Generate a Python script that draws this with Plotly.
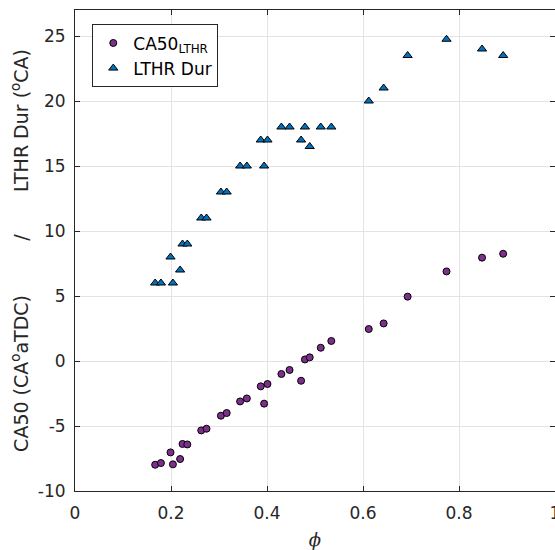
import plotly.graph_objects as go

# Equivalence ratio for each operating point
phi = [0.167, 0.179, 0.199, 0.204, 0.219, 0.224, 0.234, 0.263, 0.274, 0.304,
       0.316, 0.344, 0.358, 0.387, 0.394, 0.401, 0.430, 0.447, 0.471, 0.479,
       0.489, 0.512, 0.534, 0.612, 0.643, 0.693, 0.774, 0.848, 0.892]

# CA50 of the LTHR (CA deg aTDC)
ca50_lthr = [-7.98, -7.85, -7.03, -7.95, -7.54, -6.38, -6.42, -5.34, -5.21, -4.21,
             -4.00, -3.11, -2.88, -1.95, -3.28, -1.77, -1.00, -0.69, -1.52, 0.12,
             0.28, 1.02, 1.54, 2.46, 2.89, 4.95, 6.89, 7.95, 8.25]

# LTHR duration (CA deg)
lthr_dur = [6, 6, 8, 6, 7, 9, 9, 11, 11, 13,
            13, 15, 15, 17, 15, 17, 18, 18, 17, 18,
            16.5, 18, 18, 20, 21, 23.5, 24.75, 24, 23.5]

x_ticks = [0, 0.2, 0.4, 0.6, 0.8, 1]
x_tick_labels = ["0", "0.2", "0.4", "0.6", "0.8", "1"]
y_ticks = [-10, -5, 0, 5, 10, 15, 20, 25]
y_tick_labels = ["-10", "-5", "0", "5", "10", "15", "20", "25"]

FONT = "DejaVu Sans, Liberation Sans, Arial, sans-serif"
INK = "#262626"

fig = go.Figure()
fig.add_trace(go.Scatter(
    x=phi, y=ca50_lthr, mode="markers", name="CA50<sub>LTHR</sub>",
    marker=dict(symbol="circle", size=7, color="#7E2F8E",
                line=dict(color="black", width=1)),
))
fig.add_trace(go.Scatter(
    x=phi, y=lthr_dur, mode="markers", name="LTHR Dur",
    marker=dict(symbol="triangle-up", size=8, color="#0072BD",
                line=dict(color="black", width=1)),
))

nb = "\u00a0"
ylabel = ("CA50 (CA<sup>o</sup>aTDC)" + nb * 9 + "/" + nb * 7
          + "LTHR Dur (<sup>o</sup>CA)")

fig.update_layout(
    width=555, height=550,
    margin=dict(l=75, r=0, t=10, b=59, autoexpand=False),
    paper_bgcolor="white", plot_bgcolor="white",
    font=dict(family=FONT, size=17, color=INK),
    showlegend=True,
    legend=dict(x=0.036, y=0.97, xanchor="left", yanchor="top",
                bordercolor=INK, borderwidth=1, bgcolor="white",
                font=dict(size=17, color="black"),
                itemsizing="trace", itemwidth=30, tracegroupgap=0),
    xaxis=dict(range=[0, 1], tickvals=x_ticks, ticktext=x_tick_labels,
               automargin=False,
               showgrid=True, gridcolor="#E3E3E3", gridwidth=1,
               zeroline=False, showline=True, linecolor=INK, linewidth=1,
               mirror="ticks", ticks="inside", ticklen=5, tickcolor=INK,
               tickfont=dict(size=17, color=INK),
               ticklabelstandoff=7, ticklabeloverflow="allow",
               title=dict(text="<i>ϕ</i>", standoff=14,
                          font=dict(family="DejaVu Serif, serif", size=18, color=INK))),
    yaxis=dict(range=[-10, 27], tickvals=y_ticks, ticktext=y_tick_labels,
               automargin=False,
               showgrid=True, gridcolor="#E3E3E3", gridwidth=1,
               zeroline=False, showline=True, linecolor=INK, linewidth=1,
               mirror="ticks", ticks="inside", ticklen=5, tickcolor=INK,
               tickfont=dict(size=17, color=INK),
               ticklabelstandoff=5,
               title=dict(text=ylabel, standoff=4,
                          font=dict(size=19, color=INK))),
)

fig.write_html("out.html")
